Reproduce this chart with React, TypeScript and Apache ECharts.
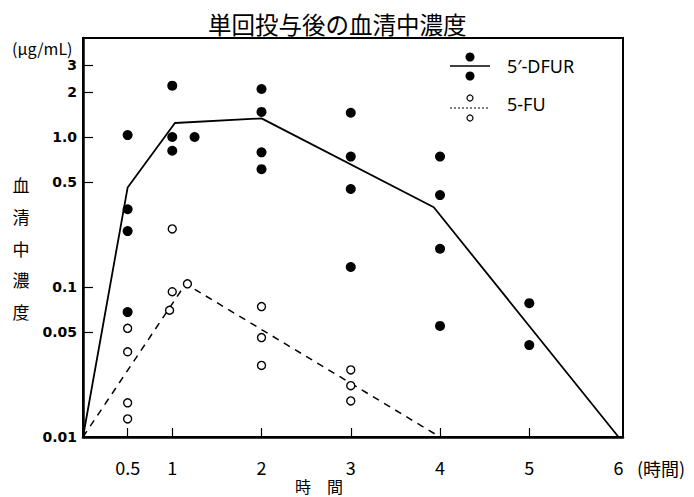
import React, { useEffect, useRef } from "react";
import * as echarts from "echarts";

const titleText = "単回投与後の血清中濃度";
const xTicks = [0.5, 1, 2, 3, 4, 5];
const xLabels = [0.5, 1, 2, 3, 4, 5, 6];
const yTickValues = [0.01, 0.05, 0.1, 0.5, 1, 2, 3];
const yTickLabels = ["0.01", "0.05", "0.1", "0.5", "1.0", "2", "3"];

// 5'-DFUR mean line
const dfurLineX = [0, 0.5, 1.03, 2, 3.93, 6];
const dfurLineY = [0.01, 0.46, 1.24, 1.33, 0.34, 0.01];
// 5'-DFUR individual points
const dfurPtsX = [0.5, 0.5, 0.5, 0.5, 1, 1, 1, 1.25, 2, 2, 2, 2, 3, 3, 3, 3, 4, 4, 4, 4, 5, 5];
const dfurPtsY = [1.03, 0.33, 0.236, 0.068, 2.2, 1.0, 0.81, 1.0, 2.09, 1.47, 0.79, 0.61, 1.45, 0.74, 0.45, 0.136, 0.74, 0.41, 0.18, 0.055, 0.078, 0.041];

// 5-FU mean line
const fuLineX = [0, 1.15, 4];
const fuLineY = [0.01, 0.105, 0.01];
// 5-FU individual points
const fuPtsX = [0.5, 0.5, 0.5, 0.5, 1, 1, 0.97, 1.17, 2, 2, 2, 3, 3, 3];
const fuPtsY = [0.053, 0.037, 0.0169, 0.0132, 0.244, 0.093, 0.07, 0.105, 0.074, 0.046, 0.03, 0.028, 0.022, 0.0174];

const legendNames = ["5′-DFUR", "5-FU"];

const CJK = "'Noto Sans CJK JP', 'Noto Sans', sans-serif";

function pairs(xs: number[], ys: number[]) {
  return xs.map((x, i) => [x, Math.log10(ys[i])]);
}

export default function App() {
  const ref = useRef<HTMLDivElement>(null);
  useEffect(() => {
    if (!ref.current) return;
    const chart = echarts.init(ref.current, undefined, { renderer: "svg" });
    const yLog = yTickValues.map((v) => Math.log10(v));
    const option: any = {
      animation: false,
      backgroundColor: "#fff",
      title: {
        text: titleText,
        left: 208,
        top: 12,
        padding: 0,
        textStyle: { fontSize: 23.5, fontWeight: "normal", fontFamily: CJK, color: "#000" },
      },
      grid: {
        left: 83,
        top: 38,
        width: 540,
        height: 399,
        show: true,
        borderColor: "#000",
        borderWidth: 2,
        backgroundColor: "transparent",
      },
      xAxis: {
        type: "value",
        min: 0,
        max: 6.05,
        axisLine: { show: true, onZero: false, lineStyle: { color: "#000", width: 2.5 } },
        axisTick: {
          show: true,
          inside: true,
          length: 9,
          customValues: xTicks,
          lineStyle: { color: "#000", width: 1.2 },
        },
        axisLabel: {
          customValues: xLabels,
          margin: 21,
          fontSize: 18,
          fontFamily: CJK,
          color: "#000",
          formatter: (v: number) => String(v),
        },
        splitLine: { show: false },
      },
      yAxis: {
        type: "value",
        min: -2,
        max: 0.66,
        axisLine: { show: true, onZero: false, lineStyle: { color: "#000", width: 2.5 } },
        axisTick: {
          show: true,
          inside: true,
          length: 10,
          customValues: yLog,
          lineStyle: { color: "#000", width: 1.2 },
        },
        axisLabel: {
          customValues: yLog,
          margin: 6,
          fontSize: 14,
          fontWeight: "bold",
          fontFamily: "'DejaVu Sans', sans-serif",
          color: "#000",
          formatter: (v: number) => {
            let best = 0;
            let d = Infinity;
            yLog.forEach((t, i) => {
              const dd = Math.abs(t - v);
              if (dd < d) {
                d = dd;
                best = i;
              }
            });
            return yTickLabels[best];
          },
        },
        splitLine: { show: false },
      },
      series: [
        {
          name: legendNames[0] + " line",
          type: "line",
          data: pairs(dfurLineX, dfurLineY),
          showSymbol: false,
          symbol: "none",
          lineStyle: { color: "#000", width: 1.8 },
          z: 2,
        },
        {
          name: legendNames[1] + " line",
          type: "line",
          data: pairs(fuLineX, fuLineY),
          showSymbol: false,
          symbol: "none",
          lineStyle: { color: "#000", width: 1.5, type: [7, 6] },
          z: 2,
        },
        {
          name: legendNames[0],
          type: "scatter",
          data: pairs(dfurPtsX, dfurPtsY),
          symbol: "circle",
          symbolSize: 10,
          itemStyle: { color: "#000", opacity: 1 },
          z: 3,
        },
        {
          name: legendNames[1],
          type: "scatter",
          data: pairs(fuPtsX, fuPtsY),
          symbol: "circle",
          symbolSize: 8,
          itemStyle: { color: "#fff", borderColor: "#000", borderWidth: 1.4, opacity: 1 },
          z: 4,
        },
      ],
      graphic: [
        {
          type: "text",
          left: 12,
          top: 40,
          style: { text: "(μg/mL)", fontSize: 16, fontFamily: CJK, fill: "#000" },
        },
        {
          type: "text",
          x: 21,
          y: 248,
          style: {
            text: "血\n清\n中\n濃\n度",
            fontSize: 17,
            lineHeight: 31.7,
            fontFamily: CJK,
            fill: "#000",
            align: "center",
            verticalAlign: "middle",
          },
        },
        {
          type: "text",
          x: 319,
          y: 486,
          style: {
            text: "時　間",
            fontSize: 16,
            fontFamily: CJK,
            fill: "#000",
            align: "center",
            verticalAlign: "middle",
          },
        },
        {
          type: "text",
          x: 637,
          y: 468,
          style: {
            text: "(時間)",
            fontSize: 18,
            fontFamily: CJK,
            fill: "#000",
            align: "left",
            verticalAlign: "middle",
          },
        },
        // legend: 5'-DFUR
        { type: "line", shape: { x1: 450, y1: 66, x2: 490, y2: 66 }, style: { stroke: "#000", lineWidth: 1.5 } },
        { type: "circle", shape: { cx: 470, cy: 57, r: 4.5 }, style: { fill: "#000" } },
        { type: "circle", shape: { cx: 470, cy: 76, r: 4.5 }, style: { fill: "#000" } },
        {
          type: "text",
          x: 507,
          y: 66,
          style: { text: legendNames[0], fontSize: 18, fontFamily: "'Noto Sans', sans-serif", fill: "#000", verticalAlign: "middle" },
        },
        // legend: 5-FU
        { type: "line", shape: { x1: 450, y1: 108, x2: 490, y2: 108 }, style: { stroke: "#000", lineWidth: 1, lineDash: [2, 2] } },
        { type: "circle", shape: { cx: 470, cy: 98, r: 3 }, style: { fill: "#fff", stroke: "#000", lineWidth: 1.2 } },
        { type: "circle", shape: { cx: 470, cy: 118, r: 3 }, style: { fill: "#fff", stroke: "#000", lineWidth: 1.2 } },
        {
          type: "text",
          x: 507,
          y: 104,
          style: { text: legendNames[1], fontSize: 18, fontFamily: "'Noto Sans', sans-serif", fill: "#000", verticalAlign: "middle" },
        },
      ],
    };
    chart.setOption(option);
    return () => chart.dispose();
  }, []);
  return <div ref={ref} style={{ position: "absolute", left: 0, top: 0, width: 694, height: 497 }} />;
}
